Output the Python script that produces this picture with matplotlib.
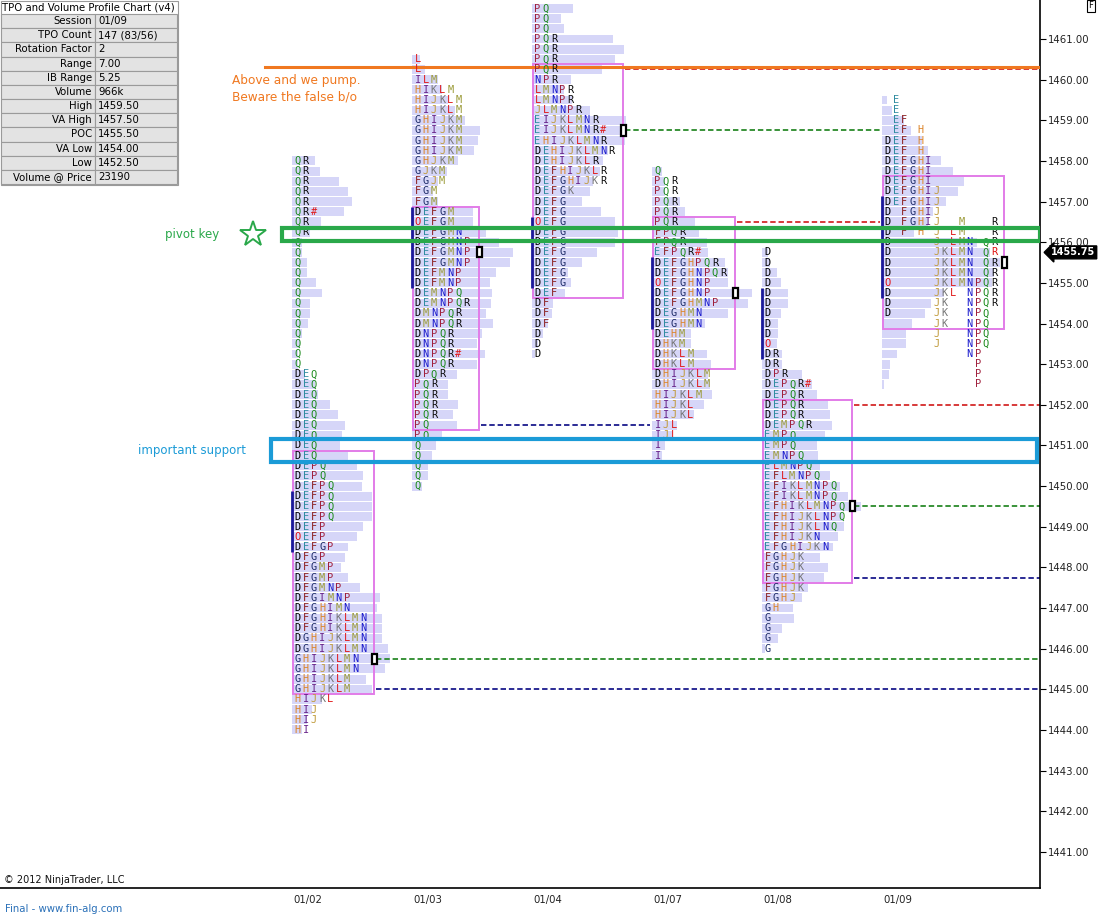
import numpy as np
import matplotlib
matplotlib.use("Agg")
import matplotlib.pyplot as plt
from matplotlib.patches import Rectangle
import matplotlib.transforms as mtransforms

# ---- data -------------------------------------------------------------
sessions = ["01/02", "01/03", "01/04", "01/07", "01/08", "01/09"]
top_price = [1458.0, 1460.5, 1461.75, 1457.75, 1455.75, 1459.5]

tpo_0102 = ["QR", "QR", "QR", "QR", "QR", "QR#", "QR", "QR"] + ["Q"] * 13 + ["DEQ"] * 9 + [
    "DEPQ", "DEPQ", "DEFPQ", "DEFPQ", "DEFPQ", "DEFPQ", "DEFP", "OEFP", "DEFGP", "DFGP",
    "DFGMP", "DFGMP", "DFGMNP", "DFGIMNP", "DFGHIMN", "DFGHIKLMN", "DFGHIKLMN",
    "DGHIJKLMN", "DGHIJKLMN", "GHIJKLMN", "GHIJKLMN", "GHIJKLM", "GHIJKLM",
    "HIJKL", "HIJ", "HIJ", "HI"]
vol_0102 = [23, 28, 47, 56, 60, 52, 29, 18,
            10, 10, 15, 15, 24, 30, 18, 18, 16, 10, 8, 6, 6,
            13, 23, 26, 38, 46, 53, 50, 48, 56,
            65, 71, 70, 80, 80, 80, 71, 65, 56, 53, 49, 56, 68, 88, 85, 90, 90,
            90, 96, 98, 93, 74, 80, 30, 20, 15, 10]

tpo_0103 = ["L", "L", "ILM", "HIKLM", "HIJKLM", "HIJKLM", "GHIJKM", "GHIJKM", "GHIJKM",
            "GHIJKM", "GHJKM", "GJKM", "FGJM", "FGM", "FGM", "DEFGM", "OEFGM", "DEFGMN",
            "DEFGMNP", "DEFGMNP", "DEFGMNP", "DEFMNP", "DEFMNP", "DEMNPQ", "DEMNPQR",
            "DMNPQR", "DMNPQR", "DNPQR", "DNPQR", "DNPQR#", "DNPQR", "DPQR", "PQR", "PQR",
            "PQR", "PQR", "PQ", "PQ", "Q", "Q", "Q", "Q", "Q"]
vol_0103 = [8, 13, 26, 30, 36, 43, 53, 68, 66, 62, 46, 35, 26, 21, 26, 61, 61, 74, 87, 101,
            98, 84, 78, 80, 79, 74, 81, 70, 65, 73, 65, 45, 36, 36, 46, 41, 45, 30, 24, 20,
            16, 16, 10]

tpo_0104 = ["PQ", "PQ", "PQ", "PQR", "PQR", "PQR", "PQR", "NPR", "LMNPR", "LMNPR", "JLMNPR",
            "EIJKLMNR", "EIJKLMNR#", "EHIJKLMNR", "DEHIJKLMNR", "DEHIJKLR", "DEFHIJKLR",
            "DEFGHIJKR", "DEFGK", "DEFG", "DEFG", "OEFG", "DEFG", "DEFG", "DEFG", "DEFG",
            "DEFG", "DEFG", "DEF", "DF", "DF", "DF", "D", "D", "D"]
vol_0104 = [41, 29, 32, 81, 92, 83, 70, 39, 32, 40, 58, 94, 93, 93, 76, 71, 68, 61, 58, 50,
            69, 83, 86, 83, 65, 50, 36, 39, 33, 21, 20, 16, 11, 6, 3]

tpo_0107 = ["Q", "PQR", "PQR", "PQR", "PQR", "PQR", "FPQR", "FPQR", "EFPQR#", "DEFGHPQR",
            "DEFGHNPQR", "OEFGHNP", "DEFGHNP", "DEFGHMNP", "DEGHMN", "DEGHMN", "DEHM",
            "DHKM", "DHKLM", "DHKLM", "DHIJKLM", "DHIJKLM", "HIJKLM", "HIJKL", "HIJKL",
            "IJL", "IJL", "I", "I"]
vol_0107 = [10, 13, 13, 28, 33, 43, 47, 55, 56, 73, 76, 76, 100, 96, 76, 53, 39, 39, 55, 59,
            56, 58, 60, 52, 42, 25, 20, 13, 10]

tpo_0108 = ["D"] * 9 + ["O", "DR", "DR", "DPR", "DEPQR#", "DEPQR", "DEPQR", "DEPQR", "DEMPQR",
            "EMPQ", "EMPQ", "EMNPQ", "ELMNPQ", "EFLMNPQ", "EFIKLMNPQ", "EFIKLMNPQ",
            "EFHIKLMNPQ", "EFHIJKLNPQ", "EFHIJKLNQ", "EFHIJKN", "EFGHIJKN", "FGHJK",
            "FGHJK", "FGHJK", "FGHJK", "FGHJ", "GH", "G", "G", "G", "G"]
vol_0108 = [6, 8, 15, 19, 26, 26, 19, 16, 16, 15, 20, 20, 40, 50, 55, 66, 68, 70, 63, 55,
            56, 58, 68, 78, 86, 99, 81, 82, 76, 71, 58, 66, 62, 46, 40, 31, 32, 20, 16, 3]

# current session keeps letters in fixed columns (D E F G H I J K L M N P Q R)
tpo_0109 = [" E", " E", " EF", " EF H", "DEF H", "DEF H", "DEFGHI", "DEFGHI", "DEFGHI",
            "DEFGHIJ", "DEFGHIJ", "D FGHIJ", "D FGHIJ  M   R", "D F H J LM   R",
            "D     J LMN QR", "D     JKLMN Qr", "D     JKLMN QR", "D     JKLMN QR",
            "O     JKLMNPQR", "D     JKL NPQR", "D     JK  NPQR", "D     JK  NPQ",
            "      JK  NPQ", "      J   NPQ", "      J   NPQ", "          NP",
            "           P", "           P", "           P"]
vol_0109 = [5, 10, 22, 29, 40, 46, 59, 71, 82, 76, 64, 51, 46, 32, 95, 108, 118, 112, 110,
            62, 49, 43, 30, 24, 24, 15, 8, 7, 2]

tpo_rows = [tpo_0102, tpo_0103, tpo_0104, tpo_0107, tpo_0108, tpo_0109]
tpo_vols = [vol_0102, vol_0103, vol_0104, vol_0107, vol_0108, vol_0109]

va_high = [1450.75, 1456.75, 1460.25, 1456.5, 1452.0, 1457.5]
va_low = [1445.0, 1451.5, 1454.75, 1453.0, 1447.75, 1454.0]
poc = [1445.75, 1455.75, 1458.75, 1454.75, 1449.5, 1455.5]
ib_high = [1449.75, 1456.75, 1456.5, 1455.5, 1454.75, 1457.0]
ib_low = [1448.5, 1455.0, 1455.0, 1454.0, 1453.25, 1454.75]

# naked levels: (session, level, session where it stops / None = still open)
naked = [(0, "poc", None), (0, "val", None), (1, "val", 3), (2, "vah", None),
         (2, "poc", 5), (3, "vah", 5), (4, "vah", None), (4, "poc", None), (4, "val", None)]

last_price = 1455.75
pump_level = 1460.3
pivot_lo, pivot_hi = 1456.03, 1456.35
support_lo, support_hi = 1450.6, 1451.16

info_labels = ["Session", "TPO Count", "Rotation Factor", "Range", "IB Range", "Volume",
               "High", "VA High", "POC", "VA Low", "Low", "Volume @ Price"]
info_values = ["01/09", "147 (83/56)", "2", "7.00", "5.25", "966k", "1459.50", "1457.50",
               "1455.50", "1454.00", "1452.50", "23190"]

# ---- layout / style ---------------------------------------------------
W, H = 1099, 924
AX_W, AX_H = 1040, 888
session_left = [293, 413, 533, 653, 763, 883]
va_box_w = [81, 66, 90, 82, 89, 121]
COL_W = 8.2
ROW = 0.25

letter_color = {"D": "#000000", "E": "#2f8ca0", "F": "#8b1c1c", "G": "#1c2a66",
                "H": "#dc8428", "I": "#662088", "J": "#c09a3a", "K": "#767676",
                "L": "#e01818", "M": "#9c9c3a", "N": "#1a1acc", "O": "#e01010",
                "P": "#a0203c", "Q": "#1a8a1a", "R": "#111111", "#": "#e01818",
                "r": "#e01818"}
level_color = {"poc": "#2a8a2a", "vah": "#d42a2a", "val": "#1a1a8c"}

fig = plt.figure(figsize=(W / 100, H / 100), dpi=100)
ax = fig.add_axes([0, (H - AX_H) / H, AX_W / W, AX_H / H])
ax.set_xlim(0, AX_W)
ax.set_ylim(1440.11, 1461.96)

for i, (rows, vols) in enumerate(zip(tpo_rows, tpo_vols)):
    left = session_left[i]
    prices = top_price[i] - ROW * np.arange(len(rows))
    ax.barh(prices, vols, left=left - 1, height=ROW * 0.88, color="#d6d6f8",
            edgecolor="none", zorder=1)
    for p, row in zip(prices, rows):
        for k, ch in enumerate(row):
            if ch == " ":
                continue
            ax.text(left + 4.5 + COL_W * k, p, "R" if ch == "r" else ch,
                    ha="center", va="center", fontsize=7.4, family="DejaVu Sans Mono",
                    color=letter_color[ch], zorder=4)
    bw = va_box_w[i]
    ax.add_patch(Rectangle((left, va_low[i] - ROW / 2), bw, va_high[i] - va_low[i] + ROW,
                           fill=False, ec="#e27ce8", lw=1.4, zorder=3))
    ax.add_patch(Rectangle((left + bw - 2.5, poc[i] - ROW * 0.5), 5, ROW,
                           fc="white", ec="black", lw=1.6, zorder=6))
    ax.plot([left - 1, left - 1], [ib_low[i] - ROW / 2, ib_high[i] + ROW / 2],
            color="#1a1a9a", lw=2, zorder=5, solid_capstyle="butt")

levels = {"poc": poc, "vah": va_high, "val": va_low}
for s, kind, stop in naked:
    x0 = session_left[s] + va_box_w[s] + 2
    x1 = AX_W if stop is None else session_left[stop] - 3
    y = levels[kind][s]
    ax.plot([x0, x1], [y, y], color=level_color[kind], lw=1.3,
            linestyle=(0, (3, 1.6)), zorder=2)

# annotations drawn on the chart
ax.plot([265, AX_W], [pump_level, pump_level], color="#f07820", lw=2.2, zorder=3)
ax.text(232, 1459.99, "Above and we pump.", color="#f07820", fontsize=8.7,
        va="center", ha="left")
ax.text(232, 1459.57, "Beware the false b/o", color="#f07820", fontsize=8.7,
        va="center", ha="left")
ax.add_patch(Rectangle((282, pivot_lo), AX_W - 282, pivot_hi - pivot_lo,
                       fill=False, ec="#2aa84a", lw=3, zorder=7))
ax.text(165, 1456.19, "pivot key", color="#2aa84a", fontsize=8.5, va="center", ha="left")
ax.plot(253, 1456.2, marker="*", ms=19, mfc="none", mec="#2aa84a", mew=1.4)
ax.add_patch(Rectangle((271, support_lo), 1037 - 271, support_hi - support_lo,
                       fill=False, ec="#1b9bd7", lw=3, zorder=7))
ax.text(138, 1450.88, "important support", color="#1b9bd7", fontsize=8.5,
        va="center", ha="left")

# axes styling
for side in ["top", "left"]:
    ax.spines[side].set_visible(False)
for side in ["right", "bottom"]:
    ax.spines[side].set_linewidth(1.2)
ax.yaxis.tick_right()
yt = np.arange(1441, 1462)
ax.set_yticks(yt)
ax.set_yticklabels([f"{v:.2f}" for v in yt], fontsize=7.3, color="#222222")
ax.tick_params(axis="y", length=4, width=0.8, pad=2)
ax.set_xticks([l + 15 for l in session_left])
ax.set_xticklabels(sessions, fontsize=7.3, color="#222222")
ax.tick_params(axis="x", length=0, pad=5)

trans = mtransforms.blended_transform_factory(ax.transAxes, ax.transData)
ax.text(1.0 + 11 / AX_W, last_price, f"{last_price:.2f}", transform=trans, ha="left",
        va="center", color="white", fontsize=7, fontweight="bold", zorder=10,
        bbox=dict(boxstyle="larrow,pad=0.15", fc="black", ec="black"))
ax.text(4 / AX_W, 3 / AX_H, "\u00a9 2012 NinjaTrader, LLC", transform=ax.transAxes,
        fontsize=7, va="bottom", ha="left", color="#111111")

# overlay in pixel space for the info table and footer
ov = fig.add_axes([0, 0, 1, 1], zorder=20)
ov.set_xlim(0, W)
ov.set_ylim(H, 0)
ov.axis("off")
ov.add_patch(Rectangle((0.5, 0.5), 177, 184, fc="white", ec="#9a9a9a", lw=0.8))
ov.text(2, 8, "TPO and Volume Profile Chart (v4)", fontsize=7.3, va="center", ha="left")
rh = 14.17
for r, (lab, val) in enumerate(zip(info_labels, info_values)):
    y0 = 14 + r * rh
    ov.add_patch(Rectangle((1, y0), 94, rh, fc="#e3e3e3", ec="#9a9a9a", lw=0.8))
    ov.add_patch(Rectangle((95, y0), 82, rh, fc="#e3e3e3", ec="#9a9a9a", lw=0.8))
    ov.text(92, y0 + rh / 2, lab, fontsize=7.3, ha="right", va="center")
    ov.text(98, y0 + rh / 2, val, fontsize=7.3, ha="left", va="center")
ov.text(5, 909, "Final - www.fin-alg.com", fontsize=7.3, color="#2a70b8", va="center")
ov.text(1091, 6, "F", fontsize=6, ha="center", va="center",
        bbox=dict(fc="white", ec="black", lw=0.8, pad=1))

fig.savefig("out.png", dpi=100)
